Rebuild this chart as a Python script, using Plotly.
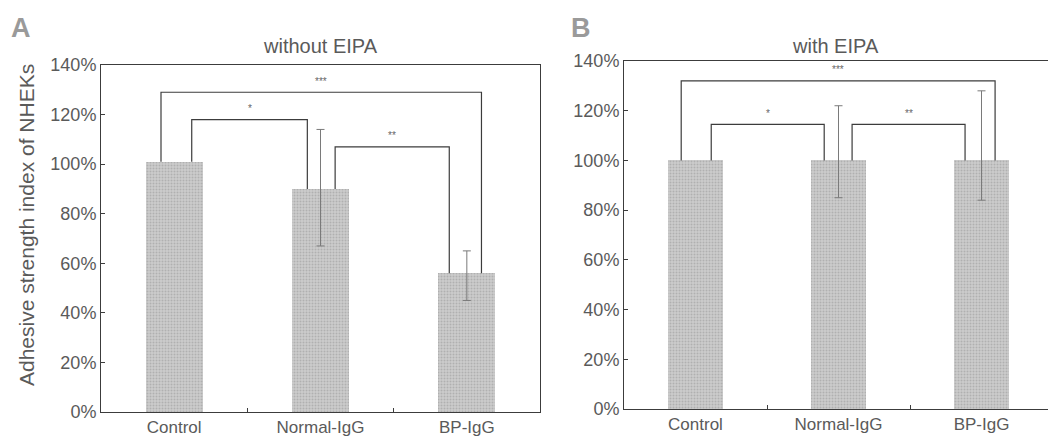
import plotly.graph_objects as go

# ---------------- data ----------------
categories = ["Control", "Normal-IgG", "BP-IgG"]
without_eipa = [101, 90, 56]
without_err_plus = [None, 24, 9]
without_err_minus = [None, 23, 11]
with_eipa = [100, 100, 100]
with_err_plus = [None, 22, 28]
with_err_minus = [None, 15, 16]
y_ticks = [0, 20, 40, 60, 80, 100, 120, 140]
y_tick_labels = [f"{v}%" for v in y_ticks]
# significance brackets: (from bar, to bar, bracket height %, label)
brackets_a = [(0, 2, 129, "***"), (0, 1, 118, "*"), (1, 2, 107, "**")]
brackets_b = [(0, 2, 132, "***"), (0, 1, 114.5, "*"), (1, 2, 114.5, "**")]

# ---------------- style ----------------
OFF = 8                      # page body margin
W, H = 1056 - OFF, 437 - OFF
FONT = "Liberation Sans, Arial, sans-serif"
TXT = "#5a5a5a"
LINE = "#3c3c3c"
BAR_BG = "#cccccc"
BAR_FG = "#949494"

def px_x(x):
    return (x - OFF) / W

def px_y(y):
    return 1 - (y - OFF) / H

fig = go.Figure()

xs = list(range(len(categories)))

def add_panel(vals, ep, em, xa, ya, brackets, offsets, star_dy):
    fig.add_trace(go.Bar(
        x=xs, y=vals, width=0.39, xaxis=xa, yaxis=ya,
        marker=dict(color=BAR_BG, line=dict(width=0),
                    pattern=dict(shape=".", fgcolor=BAR_FG, bgcolor=BAR_BG, size=3, solidity=0.35)),
        showlegend=False, hoverinfo="skip",
    ))
    ex = [x for x, e in zip(xs, ep) if e is not None]
    ey = [v for v, e in zip(vals, ep) if e is not None]
    fig.add_trace(go.Scatter(
        x=ex, y=ey, mode="markers", marker=dict(size=0.1, color="rgba(0,0,0,0)"),
        error_y=dict(type="data", symmetric=False,
                     array=[e for e in ep if e is not None],
                     arrayminus=[e for e in em if e is not None],
                     color="#7a7a7a", thickness=1, width=4),
        xaxis=xa, yaxis=ya, showlegend=False, hoverinfo="skip",
    ))
    for (i, j, h, lab), (oi, oj) in zip(brackets, offsets):
        xl, xr = i + oi, j + oj
        fig.add_trace(go.Scatter(
            x=[xl, xl, xr, xr], y=[vals[i], h, h, vals[j]],
            mode="lines", line=dict(color=LINE, width=1.2),
            xaxis=xa, yaxis=ya, showlegend=False, hoverinfo="skip",
        ))
        fig.add_annotation(x=(xl + xr) / 2, y=h + star_dy, text=lab, showarrow=False,
                           xanchor="center", yanchor="middle",
                           xref=xa, yref=ya, font=dict(size=10, color="#666666", family=FONT))

offs_a = [(-0.09, 0.1), (0.12, -0.09), (0.1, -0.12)]
offs_b = [(-0.1, 0.095), (0.11, -0.1), (0.095, -0.115)]
add_panel(without_eipa, without_err_plus, without_err_minus, "x", "y", brackets_a, offs_a, 4.5)
add_panel(with_eipa, with_err_plus, with_err_minus, "x2", "y2", brackets_b, offs_b, 4.5)

xcommon = dict(range=[-0.5, 2.5], tickmode="array", tickvals=xs, ticktext=categories,
               ticks="", showline=True, linecolor=LINE, linewidth=1, mirror=True,
               showgrid=False, zeroline=False, fixedrange=True, automargin=False,
               tickfont=dict(size=17, color=TXT, family=FONT),
               minor=dict(tickvals=[0.5, 1.5], ticks="inside", ticklen=4, tickcolor=LINE, showgrid=False))
ycommon = dict(range=[0, 140], tickmode="array", tickvals=y_ticks, ticktext=y_tick_labels,
               ticks="inside", ticklen=4, tickcolor=LINE, showline=True, linecolor=LINE,
               linewidth=1, mirror=True, showgrid=False, zeroline=False, automargin=False,
               tickfont=dict(size=18, color=TXT, family=FONT))

fig.update_layout(
    width=W, height=H, margin=dict(l=0, r=0, t=0, b=0, autoexpand=False),
    paper_bgcolor="white", plot_bgcolor="white",
    font=dict(family=FONT, color=TXT),
    bargap=0,
    xaxis=dict(domain=[px_x(101), px_x(540)], anchor="y", **xcommon),
    yaxis=dict(domain=[px_y(412), px_y(65)], anchor="x", **ycommon),
    xaxis2=dict(domain=[px_x(624), min(1.0, px_x(1053))], anchor="y2", **xcommon),
    yaxis2=dict(domain=[px_y(409), px_y(61)], anchor="x2", **ycommon),
)

def label(x, y, text, size, color=TXT, angle=0):
    fig.add_annotation(x=px_x(x), y=px_y(y), xref="paper", yref="paper", text=text,
                       showarrow=False, xanchor="center", yanchor="middle", textangle=angle,
                       font=dict(size=size, color=color, family=FONT))

# panel letters, titles, y title
label(21, 28, "<b>A</b>", 27, "#9a9a9a")
label(581, 28, "<b>B</b>", 27, "#9a9a9a")
label(320, 46, "without EIPA", 20)
label(835, 46, "with EIPA", 20)
label(26, 225, "Adhesive strength index of NHEKs", 21, angle=-90)

fig.write_html("out.html")
